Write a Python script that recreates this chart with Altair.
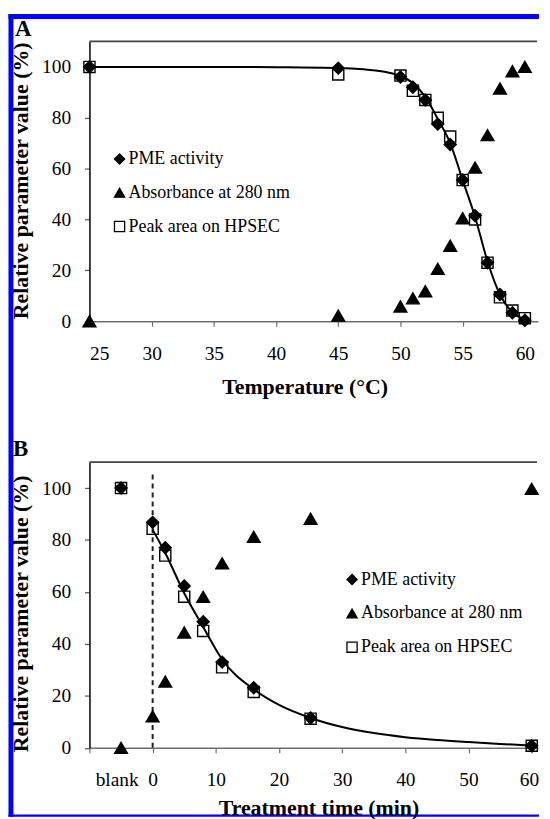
import altair as alt
import pandas as pd

# ---------------- data ----------------
series_names = ["PME activity", "Absorbance at 280 nm", "Peak area on HPSEC"]
marker_shapes = ["diamond", "triangle-up", "square"]
marker_fills = ["black", "black", "transparent"]
marker_strokes = ["black", "black", "black"]
marker_sizes = [145, 165, 125]

# Panel A: temperature
temp_x = [25, 45, 50, 51, 52, 53, 54, 55, 56, 57, 58, 59, 60]
temp_pme = [100, 99.5, 96, 92, 87, 77.5, 69.5, 55.5, 41.5, 23, 10.5, 3.3, 0.4]
temp_abs = [0, 2.2, 5.8, 9, 11.8, 20.6, 29.7, 40.5, 60.4, 73.2, 91.5, 98.3, 100]
temp_peak = [100, 97, 96.6, 90.6, 87, 80, 72.6, 55.5, 40, 23, 9.4, 4.2, 1.2]
temp_fit_x = [25, 30, 35, 40, 45, 47, 48, 49, 50, 51, 52, 53, 54, 55, 56, 57, 58, 59, 60]
temp_fit_y = [100, 100, 100, 99.9, 99.6, 99.1, 98.6, 97.8, 96.4, 93.6, 88.2, 79.5, 70, 55.5, 41, 23.5, 10.5, 3.5, 0.8]
temp_ticks = [25, 30, 35, 40, 45, 50, 55, 60]

# Panel B: treatment time ("blank" sits at -5)
time_x = [-5, 0, 2, 5, 8, 11, 16, 25, 60]
time_pme = [100, 86.8, 77, 62.3, 48.5, 33, 23.1, 11.5, 0.8]
time_abs = [0, 12.1, 25.5, 44.4, 58.1, 71, 81.2, 88.2, 99.7]
time_peak = [100, 84.3, 74, 58.2, 45, 31, 21.5, 11.2, 0.8]
time_fit_x = [0, 2, 5, 8, 11, 16, 20, 25, 30, 35, 40, 45, 50, 55, 60]
time_fit_y = [84, 75, 59.5, 46.5, 34, 22.5, 16.5, 11.5, 8, 5.7, 4.1, 3, 2.2, 1.5, 0.9]
time_ticks = [-10, -5.7, 0, 10, 20, 30, 40, 50, 60]
dash_x = [0]
dash_y0 = [0]
dash_y1 = [106]

y_ticks = [0, 20, 40, 60, 80, 100]
panel_labels = ["A", "B"]
y_title = "Relative parameter value (%)"
x_titles = ["Temperature (°C)", "Treatment time (min)"]

FONT = "Liberation Serif"
W = 451.5
HA = 281.6
HB = 287.6


def long_df(x, ys):
    rows = []
    for name, vals in zip(series_names, ys):
        for xi, yi in zip(x, vals):
            rows.append({"x": xi, "y": yi, "series": name})
    return pd.DataFrame(rows)


one = pd.DataFrame({"k": [0]})


def panel(pts, fit_x, fit_y, xdomain, xaxis, H, ytitle_y, legend_x, legend_y,
          label, label_x, label_y, extra=None):
    xs = alt.Scale(domain=xdomain, nice=False, zero=False)
    ys = alt.Scale(domain=[0, 110], nice=False, zero=False)
    yaxis = alt.Axis(values=y_ticks, title=y_title, titleX=-62.5, titleY=ytitle_y,
                     titleBaseline="alphabetic", titleAlign="center", titleAngle=270,
                     labelPadding=14, tickSize=5, domainColor="#111",
                     domainWidth=1.6, tickColor="#555", tickWidth=1.2, grid=False)
    xe = alt.X("x:Q", scale=xs, axis=xaxis)
    ye = alt.Y("y:Q", scale=ys, axis=yaxis)

    legend = alt.Legend(orient="none", legendX=legend_x, legendY=legend_y,
                        labelFont=FONT, labelFontSize=18, labelColor="black",
                        labelLimit=400, symbolSize=105, symbolStrokeWidth=1.3,
                        rowPadding=16, padding=0, labelOffset=0)
    fit = alt.Chart(pd.DataFrame({"x": fit_x, "y": fit_y})).mark_line(
        color="black", strokeWidth=2, interpolate="monotone").encode(x=xe, y=ye)
    point_layers = []
    for name, size in zip(series_names, marker_sizes):
        point_layers.append(
            alt.Chart(pts).transform_filter(alt.datum.series == name).mark_point(
                opacity=1, strokeWidth=1.4, size=size).encode(
                x=xe, y=ye,
                shape=alt.Shape("series:N", title=None, legend=legend,
                                scale=alt.Scale(domain=series_names, range=marker_shapes)),
                fill=alt.Fill("series:N", title=None, legend=legend,
                              scale=alt.Scale(domain=series_names, range=marker_fills)),
                stroke=alt.Stroke("series:N", title=None, legend=legend,
                                  scale=alt.Scale(domain=series_names, range=marker_strokes)),
            )
        )
    top = alt.Chart(one).mark_rule(color="#444", strokeWidth=1.8).encode(
        x=alt.value(0), x2=alt.value(W - 1), y=alt.value(0))
    lab = alt.Chart(pd.DataFrame({"t": [label]})).mark_text(
        align="left", baseline="alphabetic", font=FONT, fontSize=23,
        fontWeight="bold", color="black").encode(
        text="t:N", x=alt.value(label_x), y=alt.value(label_y))
    layers = [top]
    if extra is not None:
        layers += extra(xe, ye)
    layers += [fit] + point_layers + [lab]
    return alt.layer(*layers).properties(width=W, height=H)


axis_common = dict(tickSize=5, domainColor="#6e6e6e", domainWidth=1.6,
                   tickWidth=1.2, grid=False,
                   titleBaseline="alphabetic", titleAlign="center")

xaxis_a = alt.Axis(values=temp_ticks, title=x_titles[0], titleX=216.5, titleY=73,
                   labelPadding=19, tickColor="#6e6e6e", **axis_common)
xaxis_b = alt.Axis(values=time_ticks, title=x_titles[1], titleX=230.5, titleY=67.5,
                   labelPadding=18, labelFlush=8, labelFlushOffset=7,
                   labelExpr="datum.value == -10 ? '' : (datum.value < -5 && datum.value > -6 ? 'blank' : datum.label)",
                   tickColor={"condition": {"test": "datum.value < -5 && datum.value > -6",
                                            "value": "transparent"},
                              "value": "#6e6e6e"},
                   **axis_common)


def border(xe, ye):
    blue = "#0000ff"
    return [
        alt.Chart(one).mark_rect(color=blue).encode(
            x=alt.value(-81.5), x2=alt.value(W + 1), y=alt.value(-27.7), y2=alt.value(-22.7)),
        alt.Chart(one).mark_rect(color=blue).encode(
            x=alt.value(-81.5), x2=alt.value(-76.5), y=alt.value(-27.7), y2=alt.value(780.5)),
        alt.Chart(one).mark_rect(color=blue).encode(
            x=alt.value(-81.5), x2=alt.value(W + 1), y=alt.value(778.2), y2=alt.value(780.5)),
    ]


def dashed(xe, ye):
    return [alt.Chart(pd.DataFrame({"x": dash_x, "y": dash_y0, "y2": dash_y1})).mark_rule(
        color="#222", strokeWidth=2, strokeDash=[5, 4]).encode(x=xe, y=ye, y2="y2:Q")]


panel_a = panel(long_df(temp_x, [temp_pme, temp_abs, temp_peak]), temp_fit_x, temp_fit_y,
                [25, 61.06], xaxis_a, HA, 139.8, 21.3, 109.3,
                panel_labels[0], -75, -5.7, extra=border)
panel_b = panel(long_df(time_x, [time_pme, time_abs, time_peak]), time_fit_x, time_fit_y,
                [-10, 61.0], xaxis_b, HB, 152.3, 255.3, 109.3,
                panel_labels[1], -77, -5.7, extra=dashed)

chart = alt.vconcat(panel_a, panel_b, spacing=141.4, bounds="flush").resolve_scale(
    shape="independent", fill="independent", stroke="independent"
).properties(
    padding={"left": 0, "top": 2, "right": 0, "bottom": 0},
    background="white",
).configure_view(stroke="transparent").configure_axis(
    labelFont=FONT, labelFontSize=19.5, labelColor="black",
    titleFont=FONT, titleFontSize=22, titleFontWeight="bold", titleColor="black",
)

chart.save("out.html", embed_options={"renderer": "svg", "actions": False})
